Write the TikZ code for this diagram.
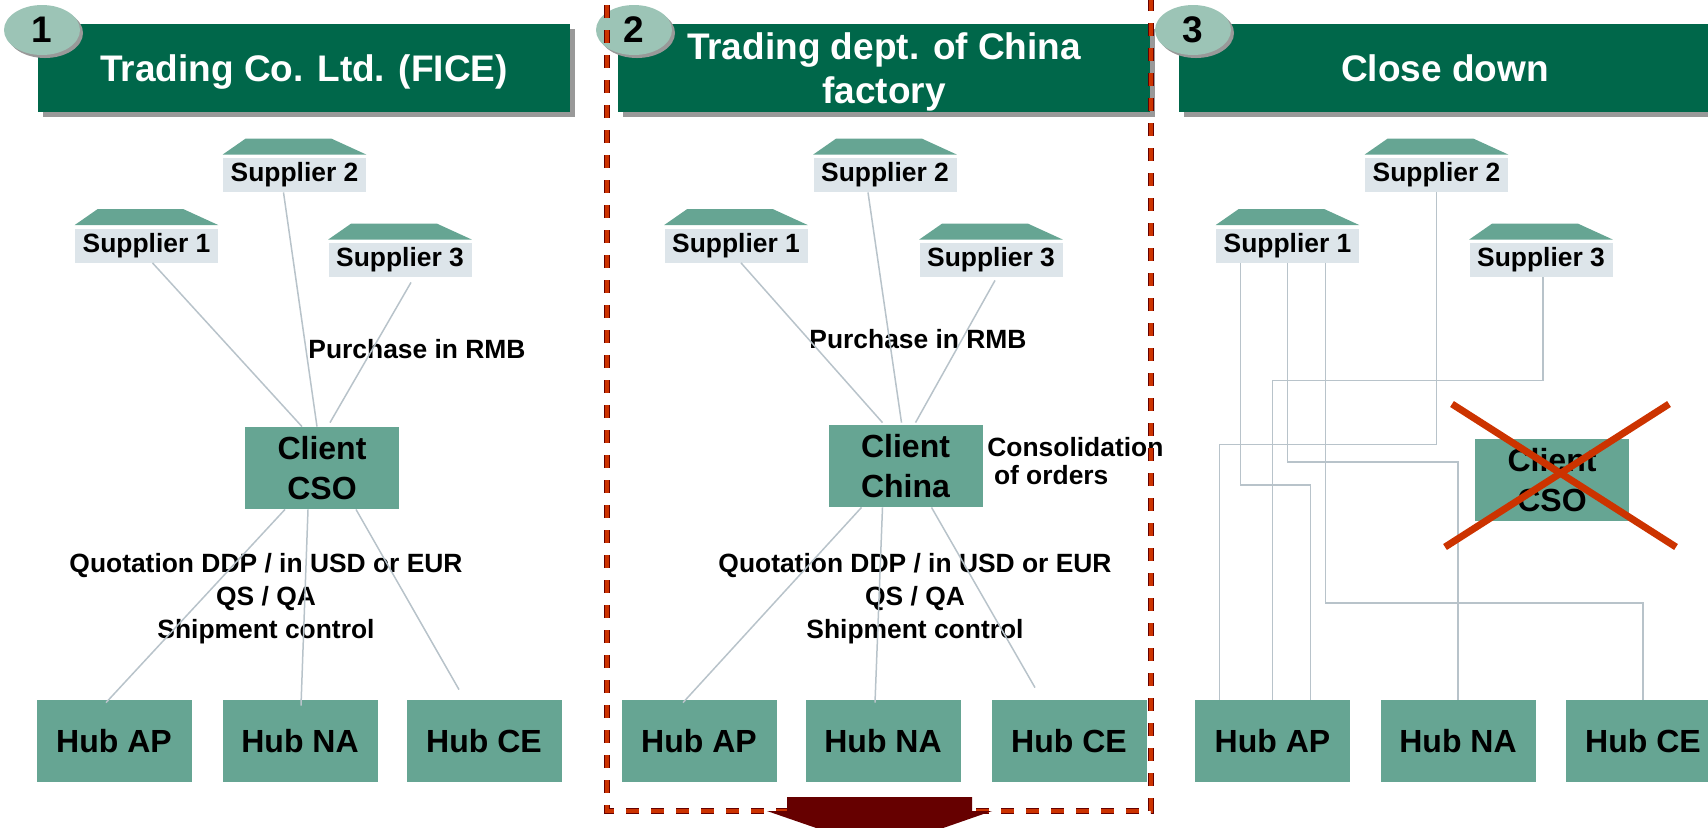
\documentclass[tikz,border=0pt]{standalone}
\usepackage{fontspec}
\setmainfont{Liberation Sans}
\usepackage{tikz}
\usetikzlibrary{shapes.geometric,shadows}

\definecolor{headgreen}{HTML}{00674A}
\definecolor{badgegreen}{HTML}{9CC4B6}
\definecolor{boxgreen}{HTML}{66A593}
\definecolor{supgrey}{HTML}{DDE5EA}
\definecolor{linkgrey}{HTML}{B8C3CA}
\definecolor{crossred}{HTML}{CC3300}
\definecolor{arrowred}{HTML}{660000}

\begin{document}
\begin{tikzpicture}[x=0.5pt, y=-0.5pt,
    head/.style={rectangle, fill=headgreen, text=white, minimum width=266pt, minimum height=44pt, inner sep=0pt, text depth=0pt, align=center, font=\bfseries\fontsize{18.5}{22}\selectfont, drop shadow={shadow xshift=2.5pt, shadow yshift=-2.5pt, fill=black!40, opacity=1}},
    badge/.style={ellipse, fill=badgegreen, minimum width=38pt, minimum height=25pt, inner sep=0pt, font=\bfseries\fontsize{18.5}{22}\selectfont, drop shadow={shadow xshift=1.5pt, shadow yshift=-1.5pt, fill=black!40, opacity=1}},
    supplier/.style={rectangle, fill=supgrey, minimum width=71.5pt, minimum height=17pt, inner sep=0pt, font=\bfseries\fontsize{13.2}{15}\selectfont},
    client/.style={rectangle, fill=boxgreen, minimum width=77pt, minimum height=41pt, inner sep=0pt, align=center, font=\bfseries\fontsize{16}{20}\selectfont},
    hub/.style={client, minimum width=77.5pt},
    note/.style={align=center, inner sep=0pt, font=\bfseries\fontsize{13.2}{16.5}\selectfont},
    link/.style={draw=linkgrey, line width=0.75pt},
    cross/.style={draw=crossred, line width=3.5pt},
    frame/.style={draw=crossred, line width=2.2pt, dash pattern=on 6.5pt off 6pt, preaction={draw=red!40!black, line width=2.8pt, dash pattern=on 6.5pt off 6pt}}]
    \useasboundingbox (0,0) rectangle (1708,827);
    \clip (0,0) rectangle (1708,827);

    \node[head] (h1) at (304,68) {Trading Co. Ltd. (FICE)};
    \node[head] (h2) at (884,68) {Trading dept. of China\\factory};
    \node[head] (h3) at (1445,68) {Close down};
    \node[badge] (n1) at (42,30) {1};
    \node[badge] (n2) at (634,30) {2};
    \node[badge] (n3) at (1193,30) {3};

    \node[supplier] (a1) at (146.5,245.5) {Supplier 1};
    \node[supplier] (a2) at (294.5,175) {Supplier 2};
    \node[supplier] (a3) at (400,260) {Supplier 3};
    \node[client] (ac) at (322,468) {Client\\CSO};
    \node[hub] (aap) at (114,741) {Hub AP};
    \node[hub] (ana) at (300,741) {Hub NA};
    \node[hub] (ace) at (484,741) {Hub CE};
    \node[note] (armb) at (417,349) {Purchase in RMB};
    \node[note] (aquo) at (266,599) {Quotation DDP / in USD or EUR\\QS / QA\\Shipment control};

    \node[supplier] (b1) at (736,245.5) {Supplier 1};
    \node[supplier] (b2) at (885,175) {Supplier 2};
    \node[supplier] (b3) at (991,260) {Supplier 3};
    \node[client] (bc) at (905.5,466) {Client\\China};
    \node[hub] (bap) at (699,741) {Hub AP};
    \node[hub] (bna) at (883,741) {Hub NA};
    \node[hub] (bce) at (1069,741) {Hub CE};
    \node[note] (brmb) at (918,339) {Purchase in RMB};
    \node[note] (bquo) at (915,599) {Quotation DDP / in USD or EUR\\QS / QA\\Shipment control};
    \node[note, anchor=west, align=left, font=\bfseries\fontsize{13.2}{14}\selectfont] (bcons) at (987,461) {Consolidation\\\hspace*{0.25em}of orders};

    \node[supplier] (c1) at (1287.5,245.5) {Supplier 1};
    \node[supplier] (c2) at (1436.5,175) {Supplier 2};
    \node[supplier] (c3) at (1541,260) {Supplier 3};
    \node[client] (cc) at (1552,480) {Client\\CSO};
    \node[hub] (cap) at (1272.5,741) {Hub AP};
    \node[hub] (cna) at (1458,741) {Hub NA};
    \node[hub] (cce) at (1643,741) {Hub CE};

    \foreach \s in {a1,a2,a3,b1,b2,b3,c1,c2,c3}
        \fill[boxgreen] ([yshift=1.5pt]\s.north west) -- ([xshift=11.5pt,yshift=9.5pt]\s.north west) -- ([xshift=-17.5pt,yshift=9.5pt]\s.north east) -- ([yshift=1.5pt]\s.north east) -- cycle;

    \draw[link] ([xshift=3pt]a1.south) -- ([xshift=-10pt]ac.north);
    \draw[link] ([xshift=-5.5pt]a2.south) -- ([xshift=-2.5pt]ac.north);
    \draw[link] ([xshift=5.5pt,yshift=-2.5pt]a3.south) -- ([xshift=4pt,yshift=2pt]ac.north);
    \draw[link] ([xshift=-18.5pt]ac.south) -- ([xshift=-4pt,yshift=-1.5pt]aap.north);
    \draw[link] ([xshift=-7pt]ac.south) -- ([xshift=0.5pt,yshift=-3pt]ana.north);
    \draw[link] ([xshift=17pt]ac.south) -- ([xshift=-12.5pt,yshift=5pt]ace.north);

    \draw[link] ([xshift=2.5pt]b1.south) -- ([xshift=-11.5pt,yshift=1pt]bc.north);
    \draw[link] ([xshift=-8.5pt]b2.south) -- ([xshift=-2pt,yshift=1pt]bc.north);
    \draw[link] ([xshift=2pt,yshift=-1.5pt]b3.south) -- ([xshift=5pt,yshift=1pt]bc.north);
    \draw[link] ([xshift=-22pt]bc.south) -- ([xshift=-8pt,yshift=-1.5pt]bap.north);
    \draw[link] ([xshift=-11.5pt]bc.south) -- ([xshift=-4pt,yshift=-1.5pt]bna.north);
    \draw[link] ([xshift=13pt]bc.south) -- ([xshift=-17pt,yshift=6pt]bce.north);

    \draw[link] ([xshift=-23.5pt]c1.south) -- ++(0,222) -| ([xshift=19pt]cap.north);
    \draw[link] (c1.south) -- ++(0,199) -| (cna.north);
    \draw[link] ([xshift=19pt]c1.south) -- ++(0,340) -| (cce.north);
    \draw[link] (c2.south) -- ++(0,252) -| ([xshift=-26.5pt]cap.north);
    \draw[link] ([xshift=1pt]c3.south) -- ++(0,103) -| (cap.north);

    \draw[cross] ([shift={(-100,-76)}]cc.center) -- ([shift={(124,67)}]cc.center);
    \draw[cross] ([shift={(117,-76)}]cc.center) -- ([shift={(-107,67)}]cc.center);

    \draw[frame] (607,-20) rectangle (1151,811);
    \fill[arrowred] (787,797) -- (972,797) -- (972,811) -- (992,811) -- (880,850) -- (767,811) -- (787,811) -- cycle;
\end{tikzpicture}
\end{document}
